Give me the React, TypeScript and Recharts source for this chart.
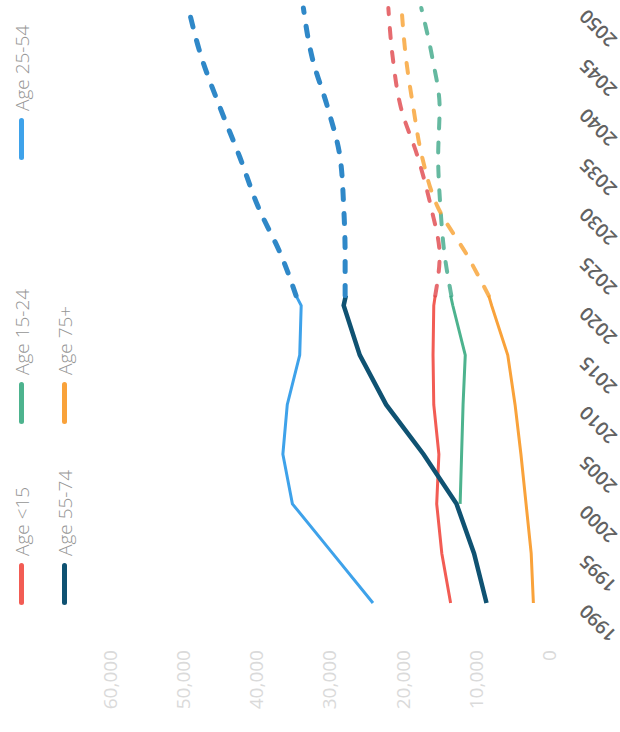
import React from 'react';
import { LineChart, Line, XAxis, YAxis, Legend } from 'recharts';

// ---- data ----
const years = [1990, 1995, 2000, 2005, 2010, 2015, 2020, 2021, 2025, 2030, 2035, 2040, 2045, 2050];
const xTicks = [1990, 1995, 2000, 2005, 2010, 2015, 2020, 2025, 2030, 2035, 2040, 2045, 2050];
const yTicks = [0, 10000, 20000, 30000, 40000, 50000, 60000];

const under15Hist = [13500, 14700, 15400, 15100, 15800, 15900, 15800, 15600, null, null, null, null, null, null];
const under15Proj = [null, null, null, null, null, null, null, 15600, 15000, 16200, 18000, 20300, 21400, 22000];
const age1524Hist = [null, null, 12200, 12000, 11800, 11500, 13200, 13500, null, null, null, null, null, null];
const age1524Proj = [null, null, null, null, null, null, null, 13400, 14300, 14900, 15200, 15000, 16000, 17500];
const age2554Hist = [24100, 29600, 35100, 36400, 35800, 34100, 33900, 34600, null, null, null, null, null, null];
const age2554Proj = [null, null, null, null, null, null, null, 34600, 36600, 39800, 42300, 45000, 47500, 49300];
const age5574Hist = [8600, 10300, 12700, 17200, 22300, 25900, 28100, 27800, null, null, null, null, null, null];
const age5574Proj = [null, null, null, null, null, null, null, 27900, 27900, 28100, 28600, 30300, 32400, 33600];
const age75Hist = [2200, 2500, 3200, 3900, 4700, 5700, 7900, 8300, null, null, null, null, null, null];
const age75Proj = [null, null, null, null, null, null, null, 8300, 11200, 15300, 17400, 18600, 19600, 20200];

const legendLabels = ['Age <15', 'Age 15-24', 'Age 25-54', 'Age 55-74', 'Age 75+'];
const legendColors = ['#f25c54', '#4db38e', '#3ea2ea', '#0f5272', '#f9a23a'];

const data = years.map((year, i) => ({
  year,
  u15h: under15Hist[i], u15p: under15Proj[i],
  a1524h: age1524Hist[i], a1524p: age1524Proj[i],
  a2554h: age2554Hist[i], a2554p: age2554Proj[i],
  a5574h: age5574Hist[i], a5574p: age5574Proj[i],
  a75h: age75Hist[i], a75p: age75Proj[i],
}));

const W = 732;
const H = 620;
const FONT = "'Open Sans', 'Noto Sans', sans-serif";

const XTick = (props: any) => {
  const { x, y, payload } = props;
  const ty = y + 38;
  return (
    <text x={x} y={ty} transform={`rotate(-45 ${x} ${ty})`} textAnchor="end"
      fill="#626262" fontSize={19} fontWeight={600} fontFamily={FONT}>
      {payload.value}
    </text>
  );
};

const LegendContent = () => (
  <div style={{ display: 'grid', gridTemplateColumns: '181px 264px 170px', gridAutoRows: '43px', paddingLeft: 127 }}>
    {legendLabels.map((l, i) => (
      <div key={l} style={{ display: 'flex', alignItems: 'center' }}>
        <span style={{ display: 'inline-block', width: 42, height: 5, borderRadius: 3, background: legendColors[i], marginRight: 7 }} />
        <span style={{ fontFamily: FONT, fontSize: 19, fontWeight: 300, color: '#959595', whiteSpace: 'nowrap' }}>{l}</span>
      </div>
    ))}
  </div>
);

const dash = '10 14';

export default function App() {
  return (
    <div style={{ position: 'absolute', left: 0, top: 0, width: 620, height: 732, overflow: 'hidden', background: '#fff' }}>
      <div style={{ position: 'absolute', left: 0, top: 0, width: W, height: H, transformOrigin: '0 0', transform: `translate(0px, ${W}px) rotate(-90deg)` }}>
        <LineChart width={W} height={H} data={data} margin={{ top: 110, right: 8, bottom: 0, left: 0 }}>
          <XAxis dataKey="year" type="number" domain={[1990, 2050]} ticks={xTicks} interval={0}
            axisLine={false} tickLine={false} tickSize={0} tickMargin={0} height={70.5} tick={<XTick />} />
          <YAxis type="number" domain={[0, 60000]} ticks={yTicks} width={129} axisLine={false} tickLine={false}
            tickSize={0} tickMargin={47} tickFormatter={(v: number) => v.toLocaleString('en-US')}
            tick={{ fill: '#dadada', fontSize: 19, fontFamily: FONT }} />
          <Legend verticalAlign="middle" align="center" content={<LegendContent />}
            wrapperStyle={{ top: 0, left: 0, width: W }} />
          <Line dataKey="u15h" stroke="#f25c54" strokeWidth={3} dot={false} activeDot={false} isAnimationActive={false} />
          <Line dataKey="a1524h" stroke="#4db38e" strokeWidth={3} dot={false} activeDot={false} isAnimationActive={false} />
          <Line dataKey="a2554h" stroke="#3ea2ea" strokeWidth={3} dot={false} activeDot={false} isAnimationActive={false} />
          <Line dataKey="a75h" stroke="#f9a23a" strokeWidth={3} dot={false} activeDot={false} isAnimationActive={false} />
          <Line dataKey="a5574h" stroke="#0f5272" strokeWidth={4.5} dot={false} activeDot={false} isAnimationActive={false} />
          <Line dataKey="a2554p" type="monotone" stroke="#2f88c8" strokeWidth={5} strokeDasharray={dash} strokeLinecap="round" dot={false} activeDot={false} isAnimationActive={false} />
          <Line dataKey="a5574p" type="monotone" stroke="#2f88c8" strokeWidth={5} strokeDasharray={dash} strokeLinecap="round" dot={false} activeDot={false} isAnimationActive={false} />
          <Line dataKey="a1524p" type="monotone" stroke="#3fa888" strokeOpacity={0.8} strokeWidth={4} strokeDasharray={dash} strokeLinecap="round" dot={false} activeDot={false} isAnimationActive={false} />
          <Line dataKey="u15p" type="monotone" stroke="#e0464b" strokeOpacity={0.8} strokeWidth={4} strokeDasharray={dash} strokeLinecap="round" dot={false} activeDot={false} isAnimationActive={false} />
          <Line dataKey="a75p" type="monotone" stroke="#f7a030" strokeOpacity={0.8} strokeWidth={4} strokeDasharray={dash} strokeLinecap="round" dot={false} activeDot={false} isAnimationActive={false} />
        </LineChart>
      </div>
    </div>
  );
}
